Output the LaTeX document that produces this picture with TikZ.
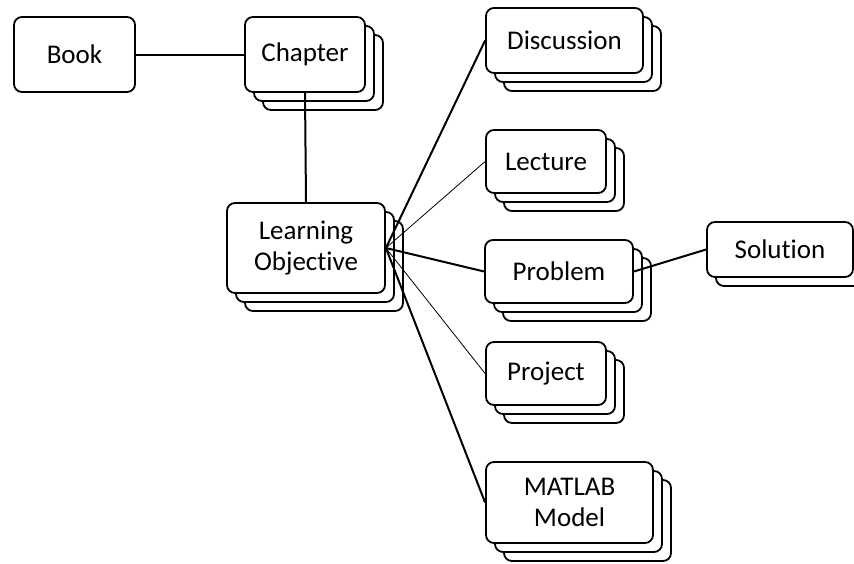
\documentclass[tikz,border=0pt]{standalone}
\usepackage{fontspec}
\setmainfont{Carlito}[Ligatures=NoCommon]
\usetikzlibrary{shadows}

\begin{document}
\begin{tikzpicture}[x=1pt, y=-1pt,
  card/.style={draw, fill=white, line width=1.8pt, rounded corners=8pt, align=center, inner sep=0pt, font=\fontsize{27}{31}\selectfont},
  stack/.style={card, copy shadow={shadow xshift=18pt, shadow yshift=-18pt}, copy shadow={shadow xshift=9pt, shadow yshift=-9pt}},
  pair/.style={card, copy shadow={shadow xshift=9pt, shadow yshift=-9pt}},
  thin link/.style={line width=0.8pt},
  thick link/.style={line width=2pt}]
  \useasboundingbox (0,0) rectangle (854,563);

  % top row
  \node[card, minimum width=121pt, minimum height=75pt] (book) at (74.5,54.5) {Book};
  \node[stack, minimum width=120pt, minimum height=75pt] (chapter) at (305,54.5) {Chapter};
  \node[stack, minimum width=158pt, minimum height=90pt] (objective) at (306,248) {Learning\\Objective};

  % right column
  \node[stack, minimum width=157pt, minimum height=65pt] (discussion) at (564.5,40.5) {Discussion};
  \node[stack, minimum width=120pt, minimum height=63pt] (lecture) at (546,161.5) {Lecture};
  \node[stack, minimum width=148pt, minimum height=63pt] (problem) at (559,271.5) {Problem};
  \node[stack, minimum width=120pt, minimum height=63pt] (project) at (546,373.5) {Project};
  \node[stack, minimum width=167pt, minimum height=81pt] (matlab) at (569.5,502.5) {MATLAB\\Model};
  \node[pair, minimum width=146pt, minimum height=55pt] (solution) at (780,249.5) {Solution};

  % connectors
  \draw[thick link] (book.east) -- (chapter.west);
  \draw[thick link] (chapter.south) -- (objective.north);
  \draw[thick link] (objective.east) -- (discussion.west);
  \draw[thin link] (objective.east) -- (lecture.west);
  \draw[thick link] (objective.east) -- (problem.west);
  \draw[thin link] (objective.east) -- (project.west);
  \draw[thick link] (objective.east) -- (matlab.west);
  \draw[thick link] (problem.east) -- (solution.west);
\end{tikzpicture}
\end{document}
